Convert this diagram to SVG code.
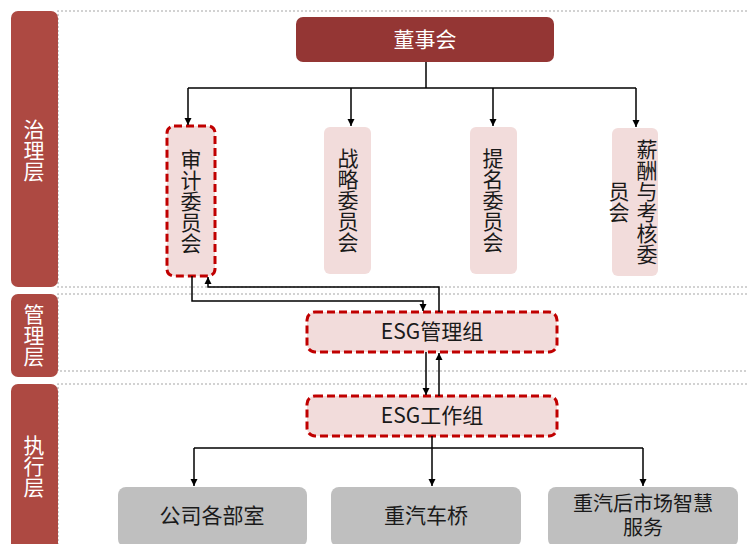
<svg xmlns="http://www.w3.org/2000/svg" width="747" height="544" viewBox="0 0 747 544">
<defs>
<marker id="ah" markerWidth="8" markerHeight="8" refX="7" refY="4" orient="auto" markerUnits="userSpaceOnUse">
<path d="M0,0.5 L7,4 L0,7.5 Z" fill="#000"/>
</marker>
<style>
text{font-family:"Noto Sans CJK SC","Liberation Sans",sans-serif;}
.lbl{fill:#ad4942;}
.lt{fill:#fff;font-size:21px;writing-mode:vertical-rl;text-anchor:middle;}
.dot{fill:none;stroke:#c4c4c4;stroke-width:1.6;stroke-dasharray:2 2;}
.com{fill:#f2dcdb;}
.red{fill:#f2dcdb;stroke:#c00000;stroke-width:3;stroke-dasharray:8 4;}
.vt{fill:#1a1a1a;font-size:21px;writing-mode:vertical-rl;text-anchor:middle;}
.ht{fill:#1a1a1a;font-size:21px;text-anchor:middle;}
.ht2{fill:#1a1a1a;font-size:20px;text-anchor:middle;}
.gry{fill:#bfbfbf;}
.cn{fill:none;stroke:#000;stroke-width:1.5;}
</style>
</defs>
<rect width="747" height="544" fill="#fff"/>
<g id="layers">
<path class="dot" d="M747,11 H58 V287 H747"/>
<path class="dot" d="M747,294 H58 V371 H747"/>
<path class="dot" d="M747,384 H58 V544"/>
</g>
<g id="label-governance"><rect class="lbl" x="11" y="11" width="47" height="276" rx="7"/><text class="lt" x="34" y="150">治理层</text></g>
<g id="label-management"><rect class="lbl" x="11" y="294" width="47" height="83" rx="7"/><text class="lt" x="34" y="335">管理层</text></g>
<g id="label-execution"><rect class="lbl" x="11" y="384" width="47" height="170" rx="7"/><text class="lt" x="34" y="466">执行层</text></g>
<g id="board"><rect x="296" y="17" width="258" height="45" rx="7" fill="#943634"/><text class="ht" x="425" y="47" style="fill:#fff">董事会</text></g>
<g id="audit"><rect class="red" x="167" y="126" width="48" height="150" rx="7"/><text class="vt" x="191" y="201">审计委员会</text></g>
<g id="strategy"><rect class="com" x="324" y="127" width="47" height="147" rx="6"/><text class="vt" x="348" y="200">战略委员会</text></g>
<g id="nomination"><rect class="com" x="470" y="127" width="47" height="147" rx="6"/><text class="vt" x="493" y="200">提名委员会</text></g>
<g id="remuneration"><rect class="com" x="612" y="128" width="46" height="148" rx="6"/><text class="vt" x="647" y="202">薪酬与考核委</text><text class="vt" x="619" y="202">员会</text></g>
<g id="esg-mgmt"><rect class="red" x="307" y="312" width="250" height="40" rx="8"/><text class="ht" x="432" y="339">ESG管理组</text></g>
<g id="esg-work"><rect class="red" x="307" y="396" width="250" height="40" rx="8"/><text class="ht" x="432" y="423">ESG工作组</text></g>
<g id="dept"><rect class="gry" x="118" y="487" width="189" height="60" rx="8"/><text class="ht" x="212" y="523">公司各部室</text></g>
<g id="axle"><rect class="gry" x="331" y="487" width="190" height="60" rx="8"/><text class="ht" x="426" y="523">重汽车桥</text></g>
<g id="aftermarket"><rect class="gry" x="548" y="487" width="190" height="60" rx="8"/><text class="ht2" x="643" y="511">重汽后市场智慧<tspan x="643" dy="24">服务</tspan></text></g>
<g id="connectors">
<path class="cn" d="M426,62 V88"/>
<path class="cn" d="M188,88 H636"/>
<path class="cn" d="M188,88 V125" marker-end="url(#ah)"/>
<path class="cn" d="M351,88 V126" marker-end="url(#ah)"/>
<path class="cn" d="M493,88 V126" marker-end="url(#ah)"/>
<path class="cn" d="M636,88 V127" marker-end="url(#ah)"/>
<path class="cn" d="M192,276 V301 H423 V311" marker-end="url(#ah)"/>
<path class="cn" d="M439,312 V287 H208 V277" marker-end="url(#ah)"/>
<path class="cn" d="M426,352 V395" marker-end="url(#ah)"/>
<path class="cn" d="M439,396 V353" marker-end="url(#ah)"/>
<path class="cn" d="M432,436 V448"/>
<path class="cn" d="M194,448 H643"/>
<path class="cn" d="M194,448 V486" marker-end="url(#ah)"/>
<path class="cn" d="M432,448 V486" marker-end="url(#ah)"/>
<path class="cn" d="M643,448 V486" marker-end="url(#ah)"/>
</g>
</svg>
